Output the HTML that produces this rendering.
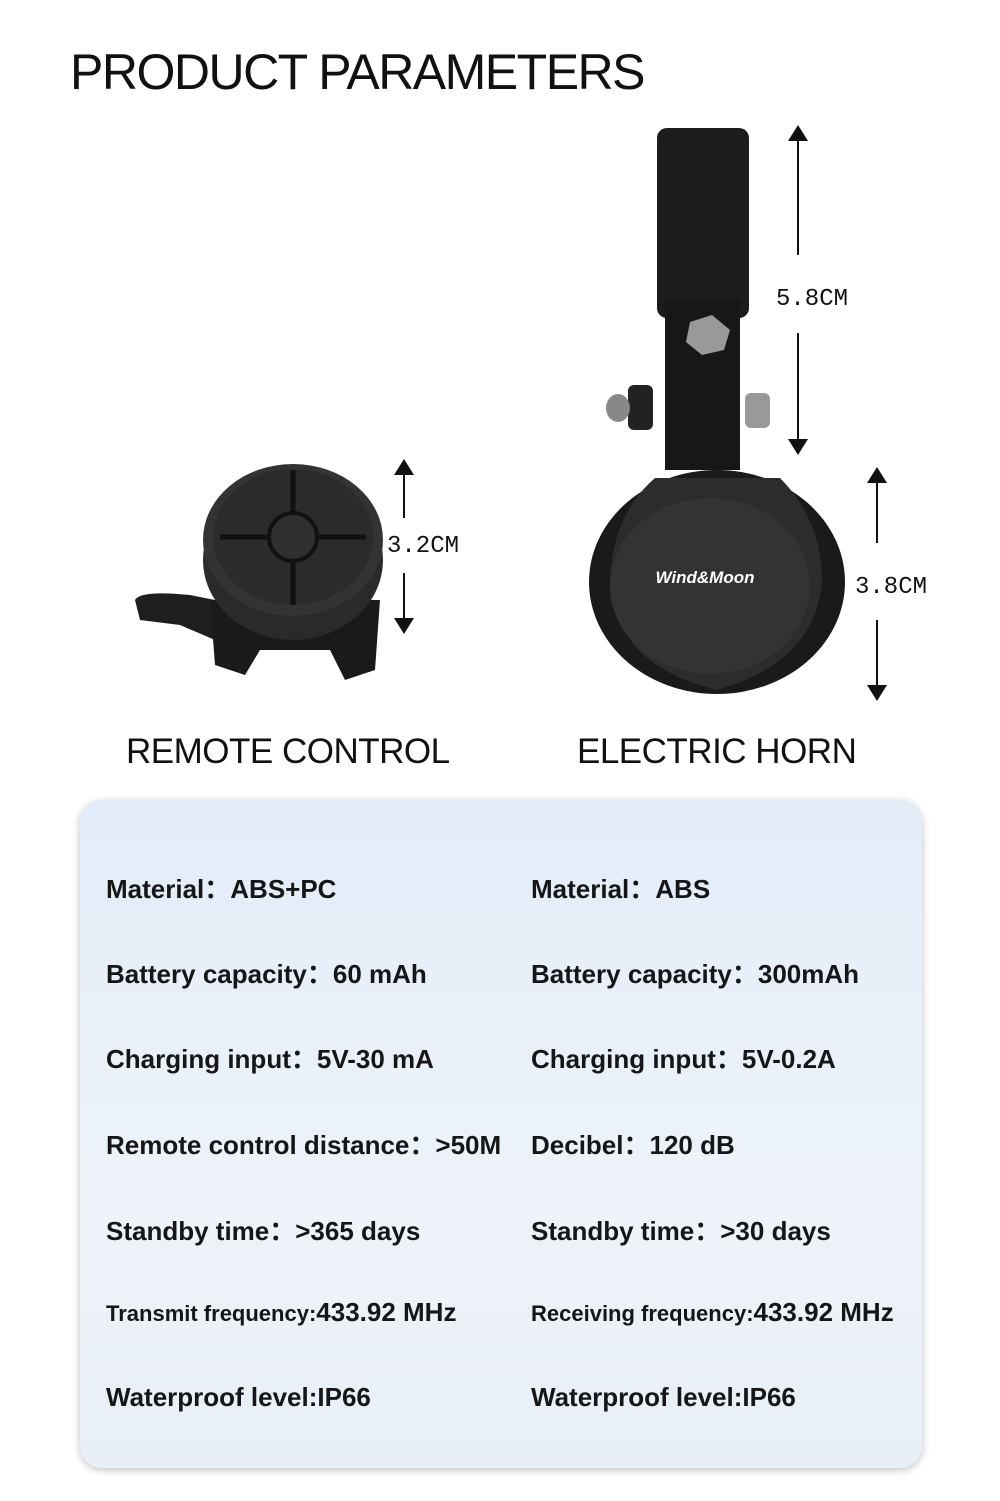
<!DOCTYPE html>
<html><head><meta charset="utf-8"><style>
body{margin:0;width:1000px;height:1501px;background:#fff;position:relative;overflow:hidden;font-family:"Liberation Sans",sans-serif}
h1{position:absolute;left:70px;top:43px;margin:0;font-weight:400;font-size:50px;color:#111;letter-spacing:-1.5px}
.lab{position:absolute;font-size:35px;color:#111;top:732px;letter-spacing:-0.5px}
.dim{position:absolute;font-family:"Liberation Mono",monospace;font-size:24px;color:#111}
.panel{position:absolute;left:80px;top:800px;width:842px;height:668px;border-radius:22px;background:linear-gradient(#e2ecf8,#eef3f9 60%,#e9eff7);box-shadow:0 2px 8px rgba(0,0,0,.25)}
.r{position:absolute;font-weight:700;font-size:26px;color:#161616;white-space:nowrap}
.s{font-size:22px}
</style></head><body>
<h1>PRODUCT PARAMETERS</h1>
<svg width="1000" height="720" style="position:absolute;left:0;top:0">
<defs><marker id="a" markerWidth="8" markerHeight="10" refX="4" refY="5" orient="auto-start-reverse"><path d="M0,0 L8,5 L0,10z" fill="#111"/></marker></defs>
<path d="M135,600 Q140,590 190,595 L215,600 L215,640 L180,625 L140,620 Z" fill="#1e1e1e"/>
<path d="M210,600 L380,600 L375,670 L345,680 L330,650 L260,650 L245,675 L215,665 Z" fill="#1a1a1a"/>
<ellipse cx="293" cy="560" rx="90" ry="80" fill="#2a2a2a"/>
<ellipse cx="293" cy="540" rx="90" ry="76" fill="#333"/>
<ellipse cx="293" cy="537" rx="80" ry="68" fill="#2b2b2b"/>
<line x1="220" y1="537" x2="366" y2="537" stroke="#111" stroke-width="5"/>
<line x1="293" y1="470" x2="293" y2="605" stroke="#111" stroke-width="5"/>
<circle cx="293" cy="537" r="24" fill="#303030" stroke="#111" stroke-width="4"/>
<rect x="657" y="128" width="92" height="190" rx="10" fill="#1c1c1c"/>
<rect x="665" y="300" width="75" height="170" fill="#171717"/>
<rect x="628" y="385" width="25" height="45" rx="6" fill="#222"/>
<ellipse cx="618" cy="408" rx="12" ry="14" fill="#888"/>
<rect x="745" y="393" width="25" height="35" rx="6" fill="#999"/>
<polygon points="690,322 712,315 730,330 724,350 702,355 686,342" fill="#999"/>
<ellipse cx="717" cy="582" rx="128" ry="112" fill="#1a1a1a"/>
<path d="M655,478 L780,478 Q822,520 822,582 Q815,662 717,690 Q615,665 610,582 Q612,515 655,478Z" fill="#2c2c2c"/>
<ellipse cx="710" cy="586" rx="100" ry="88" fill="#333"/>
<text x="705" y="583" text-anchor="middle" fill="#fff" font-weight="700" font-style="italic" font-size="17">Wind&amp;Moon</text>
<line x1="404" y1="467" x2="404" y2="518" stroke="#111" stroke-width="2" marker-start="url(#a)"/>
<line x1="404" y1="573" x2="404" y2="626" stroke="#111" stroke-width="2" marker-end="url(#a)"/>
<line x1="798" y1="133" x2="798" y2="255" stroke="#111" stroke-width="2" marker-start="url(#a)"/>
<line x1="798" y1="333" x2="798" y2="447" stroke="#111" stroke-width="2" marker-end="url(#a)"/>
<line x1="877" y1="475" x2="877" y2="543" stroke="#111" stroke-width="2" marker-start="url(#a)"/>
<line x1="877" y1="620" x2="877" y2="693" stroke="#111" stroke-width="2" marker-end="url(#a)"/>
</svg>
<div class="dim" style="left:387px;top:533px">3.2CM</div>
<div class="dim" style="left:776px;top:286px">5.8CM</div>
<div class="dim" style="left:855px;top:574px">3.8CM</div>
<div class="lab" style="left:126px">REMOTE CONTROL</div>
<div class="lab" style="left:577px">ELECTRIC HORN</div>
<div class="panel"></div>
<div class="r" style="left:106px;top:869px">Material：ABS+PC</div>
<div class="r" style="left:531px;top:869px">Material：ABS</div>
<div class="r" style="left:106px;top:954px">Battery capacity：60 mAh</div>
<div class="r" style="left:531px;top:954px">Battery capacity：300mAh</div>
<div class="r" style="left:106px;top:1039px">Charging input：5V-30 mA</div>
<div class="r" style="left:531px;top:1039px">Charging input：5V-0.2A</div>
<div class="r" style="left:106px;top:1125px">Remote control distance：&gt;50M</div>
<div class="r" style="left:531px;top:1125px">Decibel：120 dB</div>
<div class="r" style="left:106px;top:1211px">Standby time：&gt;365 days</div>
<div class="r" style="left:531px;top:1211px">Standby time：&gt;30 days</div>
<div class="r" style="left:106px;top:1297px"><span class="s">Transmit frequency:</span>433.92 MHz</div>
<div class="r" style="left:531px;top:1297px"><span class="s">Receiving frequency:</span>433.92 MHz</div>
<div class="r" style="left:106px;top:1382px">Waterproof level:IP66</div>
<div class="r" style="left:531px;top:1382px">Waterproof level:IP66</div>
</body></html>
